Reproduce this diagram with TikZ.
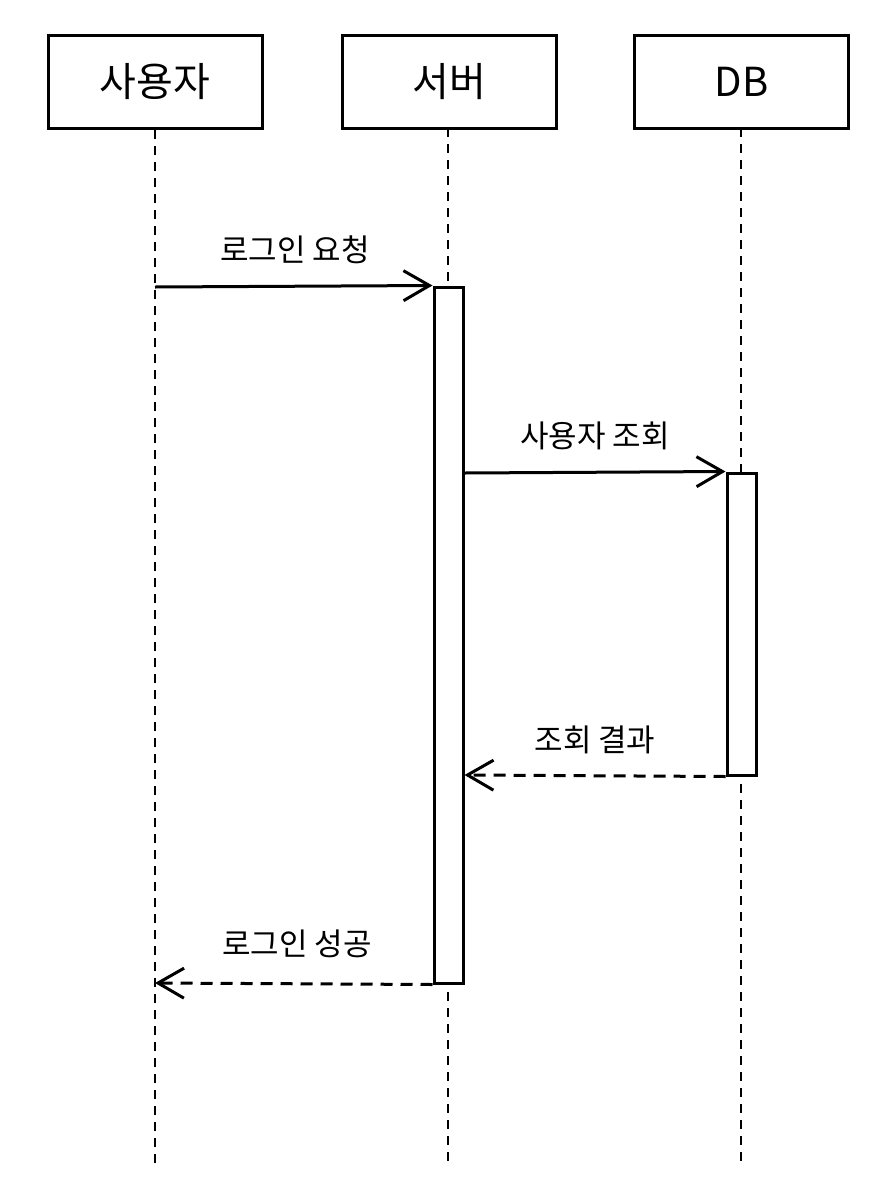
\documentclass[tikz,border=0pt]{standalone}
\usepackage{fontspec}
\newfontfamily\kr{Noto Sans CJK KR}
\usetikzlibrary{arrows.meta}
\begin{document}
\begin{tikzpicture}[x=1pt,y=-1pt,
  box/.style={draw,line width=3pt,minimum width=214pt,minimum height=93pt,font=\kr\fontsize{40}{48}\selectfont,inner sep=0},
  life/.style={line width=2.5pt,dash pattern=on 9pt off 7pt},
  act/.style={draw,fill=white,line width=3pt,minimum width=29pt,inner sep=0},
  msg/.style={line width=3pt,-{Straight Barb[length=26pt,width=30pt,line width=3pt]}},
  ret/.style={msg,dash pattern=on 12pt off 8pt},
  lab/.style={font=\kr\fontsize{31}{36}\selectfont}]
\useasboundingbox (0,0) rectangle (896,1200);
\node[box] (u) at (155,81.5) {사용자};
\node[box] (s) at (449,81.5) {서버};
\node[box] (d) at (741.5,81.5) {DB};
\coordinate (ue) at (155,1165);
\coordinate (se) at (448,1165);
\coordinate (de) at (741,1165);
\draw[life] (u.south) -- (ue);
\draw[life] (448,128) -- (se);
\draw[life] (741,128) -- (de);
\node[act,minimum height=696pt] (sa) at (448.5,635) {};
\node[act,minimum height=302pt] (da) at (741.5,624) {};
\coordinate (m1s) at (155,287);
\draw[msg] (m1s) -- (sa.north west);
\node[lab] at (295,250) {로그인 요청};
\draw[msg] (sa.east |- 0,473) -- (da.north west);
\node[lab] at (595,436) {사용자 조회};
\draw[ret] (da.south west) -- (sa.east |- 0,775);
\node[lab] at (595,740) {조회 결과};
\coordinate (m4e) at (155,983);
\draw[ret] (sa.south west) -- (m4e);
\node[lab] at (297,944) {로그인 성공};
\end{tikzpicture}
\end{document}
